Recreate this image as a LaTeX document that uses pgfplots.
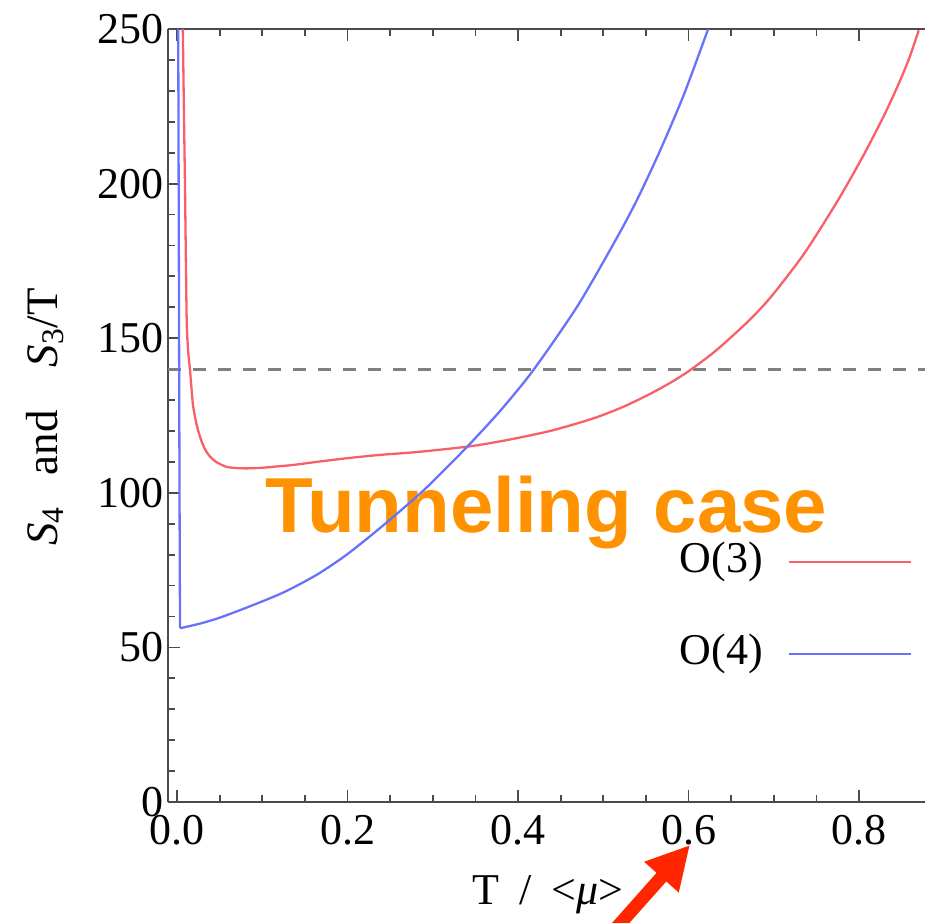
\documentclass[border=0pt]{standalone}
\usepackage{fontspec}
\setmainfont{Liberation Serif}
\newfontfamily\headfont{Liberation Sans}
\usepackage{pgfplots}
\pgfplotsset{compat=1.18}
\usetikzlibrary{arrows.meta}

\definecolor{curvethree}{RGB}{250,95,105}
\definecolor{curvefour}{RGB}{105,115,250}
\definecolor{axisgray}{RGB}{75,75,75}
\definecolor{dashgray}{RGB}{128,128,128}
\definecolor{tunnelorange}{RGB}{255,146,0}
\definecolor{arrowred}{RGB}{255,38,0}

\begin{document}
\begin{tikzpicture}
\useasboundingbox (-84pt,-60pt) rectangle (378.5pt,401pt);
\clip (-84pt,-60pt) rectangle (378.5pt,401pt);
\begin{axis}[
  scale only axis,
  width=378.5pt, height=386.5pt,
  xmin=-0.0106, xmax=0.8774,
  ymin=0, ymax=250,
  axis x line*=box, axis y line*=left,
  axis line style={axisgray, line width=1.1pt},
  tick align=inside,
  xtick={0,0.2,0.4,0.6,0.8},
  minor x tick num=3,
  ytick={0,50,100,150,200,250},
  minor y tick num=4,
  major tick length=6pt, minor tick length=3.5pt,
  every tick/.style={axisgray, line width=0.9pt},
  tick label style={font=\fontsize{22pt}{26pt}\selectfont},
  /pgf/number format/assume math mode=true,
  xticklabel style={/pgf/number format/.cd, fixed, fixed zerofill, precision=1, /tikz/.cd, yshift=-3pt},
  yticklabel style={/pgf/number format/fixed, xshift=1.5pt},
  xlabel={T\hspace{0.45em}/\hspace{0.45em}<\textit{μ}>},
  xlabel style={at={(axis description cs:0.502,-0.12)}, anchor=center, font=\fontsize{22pt}{26pt}\selectfont},
  ylabel={\textit{S}\textsubscript{4}\hspace{0.7em}and\hspace{0.95em}\textit{S}\textsubscript{3}/T},
  ylabel style={at={(axis description cs:-0.1625,0.498)}, anchor=center, rotate=0, font=\fontsize{22.5pt}{26pt}\selectfont},
  legend style={draw=none, fill=none, at={(axis description cs:0.983,0.336)}, anchor=north east,
    inner sep=0pt, outer sep=0pt, row sep=26pt, column sep=12.5pt,
    nodes={inner sep=0pt, text height=15pt, text depth=5pt},
    font=\fontsize{22pt}{26pt}\selectfont},
  legend cell align=right,
  legend plot pos=right,
  legend image code/.code={\draw[#1] (0pt,0pt) -- (61pt,0pt);},
]
\node[anchor=base west, inner sep=0pt, text=tunnelorange,
  font=\headfont\bfseries\fontsize{39pt}{44pt}\selectfont]
  at (axis description cs:0.128,0.349) {Tunneling case};

% critical value of the action
\addplot[dashgray, line width=1.4pt, dash pattern=on 6.5pt off 6pt, forget plot]
  coordinates {(-0.0106,140) (0.8774,140)};

% O(3)-symmetric bounce, S3/T
\addplot[curvethree, line width=1.15pt, smooth, tension=0.45] coordinates {
(0.0068,250) (0.0080,225) (0.0093,200) (0.0104,175) (0.0114,155) (0.0130,146)
(0.0152,139.7) (0.0175,132) (0.019,127.8) (0.023,122) (0.027,118.1) (0.032,114.5)
(0.0387,111.7) (0.047,109.8) (0.058,108.4) (0.07,108.0) (0.082,107.9) (0.10,108.1)
(0.12,108.6) (0.136,109.0) (0.164,110.0) (0.203,111.3) (0.24,112.3) (0.282,113.2)
(0.34,114.9) (0.37,116.2) (0.399,117.7) (0.4375,120.0) (0.47,122.5) (0.496,124.8)
(0.525,128.0) (0.555,132.0) (0.58,135.8) (0.602,139.7) (0.633,146.2) (0.672,156.0)
(0.698,163.8) (0.735,177.1) (0.770,192.2) (0.790,201.6) (0.809,211.1) (0.830,222.4)
(0.848,233.2) (0.860,241.4) (0.870,249.6)
};
\addlegendentry{O(3)}

% O(4)-symmetric bounce, S4: steep branch at the lowest temperatures
\addplot[curvefour, line width=1.15pt, forget plot] coordinates {
(0.0014,250) (0.0020,190) (0.0026,130) (0.0031,85) (0.0035,56.2)
};
\addplot[curvefour, line width=1.15pt, smooth, tension=0.45] coordinates {
(0.0035,56.2) (0.01,56.6) (0.027,57.7) (0.05,59.6) (0.0856,63.3) (0.125,67.8)
(0.164,73.5) (0.2,80.2) (0.242,89.5) (0.29,101.0) (0.34,114.8) (0.38,126.8)
(0.418,139.7) (0.47,160.5) (0.516,182.5) (0.54,195.0) (0.567,210.9) (0.595,229.1)
(0.623,250)
};
\addlegendentry{O(4)}
\end{axis}

\draw[arrowred, line width=6.5pt, -{Triangle[length=21.5pt, width=21.5pt]}]
  (221pt,-66.5pt) -- (261pt,-21.5pt);
\end{tikzpicture}
\end{document}
